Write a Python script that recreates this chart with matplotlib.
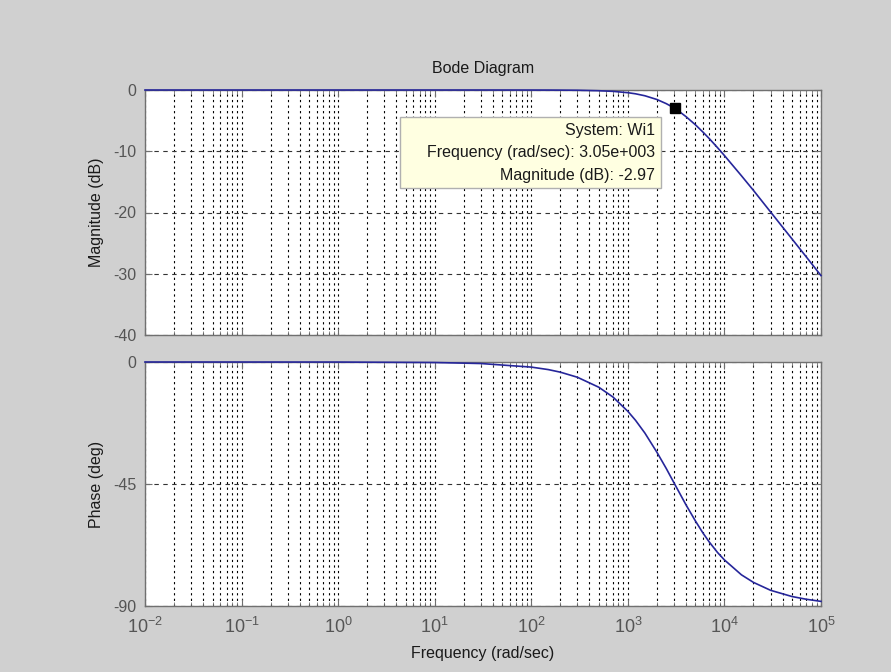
"""Bode diagram of the Wi1 low-pass weight, MATLAB-style look."""

import math

import matplotlib.pyplot as plt
from matplotlib.patches import Rectangle
from matplotlib.ticker import LogLocator, NullFormatter, FixedLocator, FuncFormatter

# values
freq = [0.01, 1, 10, 30, 100, 150, 200, 300, 500, 700, 1000, 1200, 1500, 2000,
        2500, 3050, 3500, 4000, 5000, 6000, 7000, 8500, 10000, 15000, 20000,
        30000, 50000, 70000, 100000]
mag_db = [0.0, 0.0, 0.0, 0.0, -0.005, -0.01, -0.02, -0.04, -0.12, -0.22, -0.44,
          -0.62, -0.94, -1.55, -2.23, -2.97, -3.65, -4.35, -5.67, -6.88, -7.97,
          -9.43, -10.7, -14.0, -16.4, -19.9, -24.3, -27.2, -30.3]
phase_deg = [0.0, -0.02, -0.19, -0.56, -1.88, -2.8, -3.75, -5.62, -9.31, -12.9,
             -18.2, -21.5, -26.2, -33.3, -39.3, -45.0, -48.9, -52.7, -58.6,
             -63.1, -66.5, -70.3, -73.0, -78.5, -81.3, -84.2, -86.5, -87.5, -88.3]
mag_ticks = [0, -10, -20, -30, -40]
phase_ticks = [0, -45, -90]
tip_freq = 3050
tip_mag = -2.97
tip_lines = ["System: Wi1", "Frequency (rad/sec): 3.05e+003", "Magnitude (dB): -2.97"]

BG = "#d0d0d0"
LINE = "#26269a"
TICK_TXT = "#555555"
SPINE = "#707070"

plt.rcParams["font.family"] = ["Liberation Sans", "DejaVu Sans"]
plt.rcParams["font.size"] = 11.5
plt.rcParams["axes.unicode_minus"] = False
plt.rcParams["mathtext.fontset"] = "custom"
plt.rcParams["mathtext.rm"] = "Liberation Sans"
plt.rcParams["mathtext.default"] = "rm"

W, H = 891, 672
fig = plt.figure(figsize=(W / 100, H / 100), dpi=100, facecolor=BG)


def px(x0, y0, x1, y1):
    return [x0 / W, 1 - y1 / H, (x1 - x0) / W, (y1 - y0) / H]


ax_mag = fig.add_axes(px(145, 90, 821, 335))
ax_ph = fig.add_axes(px(145, 362, 821, 606))


def decade_label(value, pos):
    exp = int(round(math.log10(value)))
    return r"$10^{%d}$" % exp


def style(axis, yticks, ylim):
    axis.set_xscale("log")
    axis.set_xlim(1e-2, 1e5)
    axis.set_ylim(*ylim)
    axis.yaxis.set_major_locator(FixedLocator(yticks))
    axis.xaxis.set_major_locator(LogLocator(base=10, numticks=20))
    axis.xaxis.set_minor_locator(LogLocator(base=10, subs=range(2, 10), numticks=20))
    axis.xaxis.set_major_formatter(FuncFormatter(decade_label))
    axis.xaxis.set_minor_formatter(NullFormatter())
    for where in axis.spines.values():
        where.set_color(SPINE)
        where.set_linewidth(1.0)
    axis.tick_params(which="both", direction="in", top=True, right=True,
                     colors=SPINE, labelcolor=TICK_TXT, labelsize=11.5)
    axis.tick_params(which="major", length=5, pad=6)
    axis.tick_params(which="minor", length=3)
    axis.tick_params(axis="x", which="major", labelsize=13, pad=8)
    axis.grid(True, which="both", axis="x", color="black",
              linestyle=(0, (2, 3)), linewidth=0.8)
    axis.grid(True, which="major", axis="y", color="#333333",
              linestyle=(0, (4, 4)), linewidth=0.8)
    axis.set_axisbelow(True)


style(ax_mag, mag_ticks, (-40, 0))
style(ax_ph, phase_ticks, (-90, 0))

ax_mag.plot(freq, mag_db, color=LINE, linewidth=1.2, clip_on=False, zorder=3)
ax_ph.plot(freq, phase_deg, color=LINE, linewidth=1.2, clip_on=False, zorder=3)
ax_mag.plot([tip_freq], [tip_mag], marker="s", color="black", markersize=7, zorder=4)

ax_mag.tick_params(axis="x", labelbottom=False)
ax_mag.set_ylabel("Magnitude (dB)", color="#1a1a1a", labelpad=7)
ax_ph.set_ylabel("Phase (deg)", color="#1a1a1a", labelpad=7)
ax_ph.set_xlabel("Frequency (rad/sec)", color="#1a1a1a", labelpad=6)
ax_mag.set_title("Bode Diagram", color="#1a1a1a", pad=12, fontsize=11.5)

# data tip box
fig.patches.append(Rectangle((400 / W, 1 - 188 / H), 261 / W, 71 / H,
                             transform=fig.transFigure, facecolor="#ffffe1",
                             edgecolor="#b0b0b0", linewidth=1.0, zorder=5))
for i, line in enumerate(tip_lines):
    fig.text(655 / W, 1 - (131 + 22 * i) / H, line, ha="right", va="center",
             fontsize=11.5, color="#1a1a1a", zorder=6)

fig.savefig("out.png", dpi=100, facecolor=BG)
